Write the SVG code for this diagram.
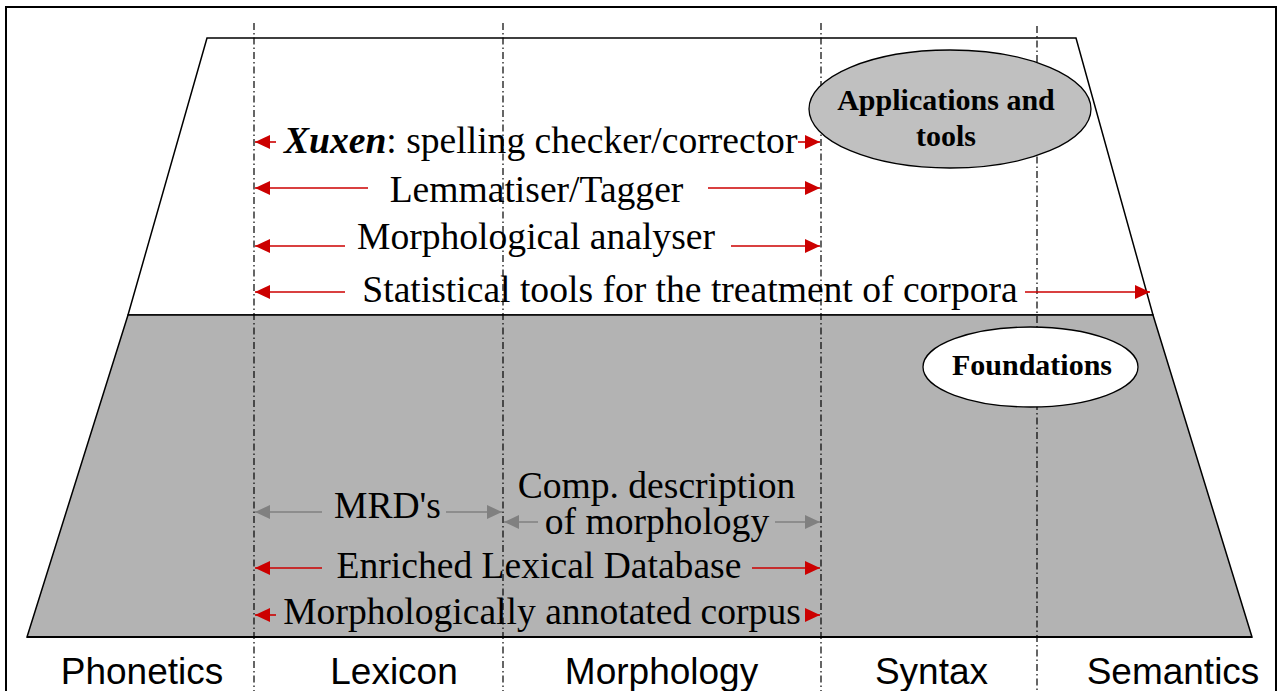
<svg xmlns="http://www.w3.org/2000/svg" width="1278" height="691" viewBox="0 0 1278 691">
  <style>
    .serif { font-family: "Liberation Serif", "Times New Roman", serif; font-size: 37.6px; fill: #000; }
    .label { font-family: "Liberation Sans", Arial, sans-serif; font-size: 37px; fill: #000; text-anchor: middle; }
    .title { font-family: "Liberation Serif", "Times New Roman", serif; font-size: 30px; font-weight: bold; fill: #000; text-anchor: middle; }
    .mid { text-anchor: middle; }
    .guide { stroke: #000; stroke-width: 1.2; stroke-dasharray: 7 3 1.5 3; fill: none; }
    .red { stroke: #cc0000; stroke-width: 1.6; fill: none; }
    .grey { stroke: #808080; stroke-width: 1.6; fill: none; }
  </style>
  <defs>
    <marker id="ah-red" markerUnits="userSpaceOnUse" markerWidth="16" markerHeight="14" viewBox="0 0 16 14" refX="15" refY="7" orient="auto">
      <path d="M0,0 L15,7 L0,14 Z" fill="#cc0000"/>
    </marker>
    <marker id="ah-grey" markerUnits="userSpaceOnUse" markerWidth="16" markerHeight="14" viewBox="0 0 16 14" refX="15" refY="7" orient="auto">
      <path d="M0,0 L15,7 L0,14 Z" fill="#808080"/>
    </marker>
  </defs>

  <rect x="0" y="0" width="1278" height="691" fill="#fff"/>
  <!-- frame -->
  <rect x="6" y="7" width="1270" height="700" fill="none" stroke="#000" stroke-width="2"/>

  <!-- upper and lower trapezoids -->
  <g id="applications-layer">
    <polygon points="207,38 1076,38 1153,315 128,315" fill="#fff" stroke="#000" stroke-width="1.5"/>
  </g>
  <g id="foundations-layer">
    <polygon points="128,315 1153,315 1252,637 27,637" fill="#b3b3b3" stroke="#000" stroke-width="1.5"/>
    <line x1="27" y1="637" x2="1252" y2="637" stroke="#000" stroke-width="2.2"/>
  </g>

  <!-- column guides -->
  <g id="guides">
    <line class="guide" x1="254" y1="23" x2="254" y2="691"/>
    <line class="guide" x1="503" y1="23" x2="503" y2="691"/>
    <line class="guide" x1="821" y1="23" x2="821" y2="691"/>
    <line class="guide" x1="1037" y1="26" x2="1037" y2="691"/>
  </g>

  <!-- ellipse captions -->
  <g id="node-applications">
    <ellipse cx="950" cy="109" rx="141" ry="59" fill="#c0c0c0" stroke="#000" stroke-width="1.3"/>
    <text class="title" x="946" y="110">Applications and</text>
    <text class="title" x="946" y="146">tools</text>
  </g>
  <g id="node-foundations">
    <ellipse cx="1030.5" cy="367" rx="107.5" ry="40" fill="#fff" stroke="#000" stroke-width="1.3"/>
    <text class="title" x="1032" y="375">Foundations</text>
  </g>

  <!-- span arrows -->
  <g id="connectors">
    <line class="red" x1="276" y1="142" x2="255" y2="142" marker-end="url(#ah-red)"/>
    <line class="red" x1="798" y1="142" x2="820" y2="142" marker-end="url(#ah-red)"/>

    <line class="red" x1="368" y1="188" x2="255" y2="188" marker-end="url(#ah-red)"/>
    <line class="red" x1="708" y1="188" x2="820" y2="188" marker-end="url(#ah-red)"/>

    <line class="red" x1="345" y1="246" x2="255" y2="246" marker-end="url(#ah-red)"/>
    <line class="red" x1="731" y1="246" x2="820" y2="246" marker-end="url(#ah-red)"/>

    <line class="red" x1="345" y1="292" x2="255" y2="292" marker-end="url(#ah-red)"/>
    <line class="red" x1="1025" y1="292" x2="1150" y2="292" marker-end="url(#ah-red)"/>

    <line class="grey" x1="322" y1="512" x2="255" y2="512" marker-end="url(#ah-grey)"/>
    <line class="grey" x1="446" y1="512" x2="502" y2="512" marker-end="url(#ah-grey)"/>

    <line class="grey" x1="538" y1="522" x2="504" y2="522" marker-end="url(#ah-grey)"/>
    <line class="grey" x1="775" y1="522" x2="820" y2="522" marker-end="url(#ah-grey)"/>

    <line class="red" x1="322" y1="568" x2="255" y2="568" marker-end="url(#ah-red)"/>
    <line class="red" x1="752" y1="568" x2="820" y2="568" marker-end="url(#ah-red)"/>

    <line class="red" x1="276" y1="615" x2="255" y2="615" marker-end="url(#ah-red)"/>
    <line class="red" x1="806" y1="615" x2="820" y2="615" marker-end="url(#ah-red)"/>
  </g>

  <!-- span labels -->
  <g id="node-xuxen"><text class="serif" x="284" y="153"><tspan font-weight="bold" font-style="italic">Xuxen</tspan>: spelling checker/corrector</text></g>
  <g id="node-lemmatiser"><text class="serif mid" x="536.5" y="202">Lemmatiser/Tagger</text></g>
  <g id="node-analyser"><text class="serif mid" x="536" y="249">Morphological analyser</text></g>
  <g id="node-statistical"><text class="serif mid" x="690" y="302">Statistical tools for the treatment of corpora</text></g>
  <g id="node-mrd"><text class="serif mid" x="387.5" y="518">MRD's</text></g>
  <g id="node-comp">
    <text class="serif mid" x="656.5" y="498">Comp. description</text>
    <text class="serif mid" x="657" y="534">of morphology</text>
  </g>
  <g id="node-eldb"><text class="serif mid" x="539" y="578">Enriched Lexical Database</text></g>
  <g id="node-corpus"><text class="serif mid" x="542" y="624">Morphologically annotated corpus</text></g>

  <!-- column labels -->
  <g id="columns">
    <text class="label" x="142" y="684">Phonetics</text>
    <text class="label" x="394" y="684">Lexicon</text>
    <text class="label" x="661.5" y="684">Morphology</text>
    <text class="label" x="931.5" y="684">Syntax</text>
    <text class="label" x="1173" y="684">Semantics</text>
  </g>
</svg>
